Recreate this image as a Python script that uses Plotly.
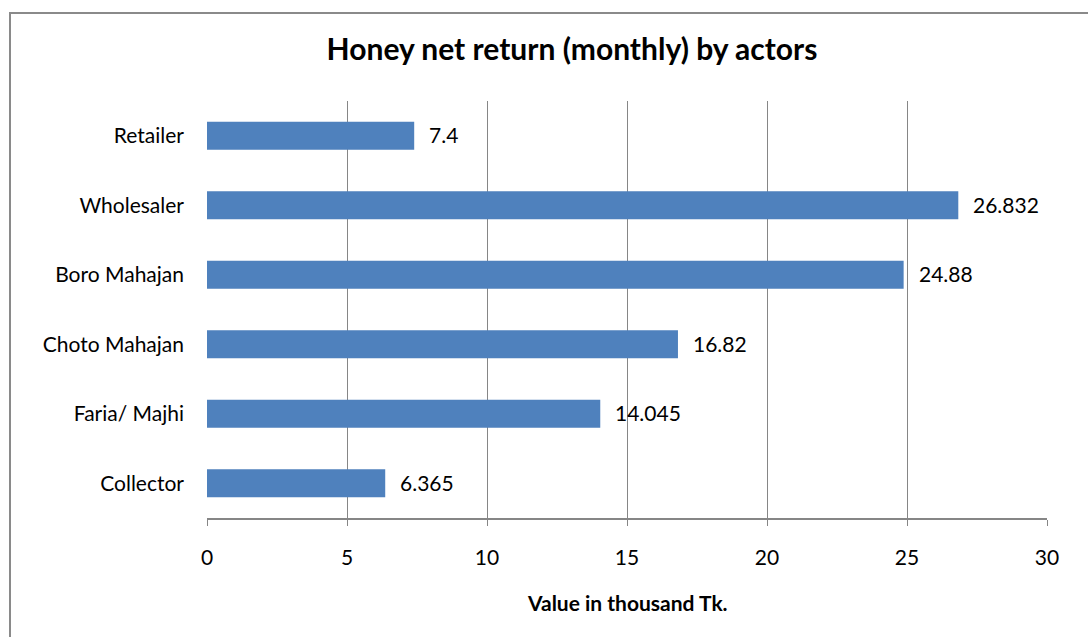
import plotly.graph_objects as go

categories = ["Collector", "Faria/ Majhi", "Choto Mahajan", "Boro Mahajan", "Wholesaler", "Retailer"]
values = [6.365, 14.045, 16.82, 24.88, 26.832, 7.4]
value_labels = ["6.365", "14.045", "16.82", "24.88", "26.832", "7.4"]
x_ticks = [0, 5, 10, 15, 20, 25, 30]

title_text = "Honey net return (monthly) by actors"
x_title = "Value in thousand Tk."

FONT = "Lato, Carlito, Calibri, sans-serif"
GRID = "#868686"
BAR = "#4F81BD"

W, H = 1088, 637
L, R, T, B = 207, 41, 101, 119
pw, ph = W - L - R, H - T - B

fig = go.Figure()
fig.add_trace(go.Bar(
    y=categories, x=values, orientation="h",
    marker=dict(color=BAR, line=dict(width=0)),
    width=0.4, hoverinfo="skip", showlegend=False,
))

for c, v, lab in zip(categories, values, value_labels):
    fig.add_annotation(x=v, y=c, xref="x", yref="y", text=lab, showarrow=False,
                       xanchor="left", yanchor="middle", xshift=13, yshift=1,
                       font=dict(family=FONT, size=21, color="#000000"))

# axis title
fig.add_annotation(x=0.5, y=(518 - 602) / ph, xref="paper", yref="paper", text="<b>%s</b>" % x_title,
                   showarrow=False, xanchor="center", yanchor="middle",
                   font=dict(family=FONT, size=21, color="#000000"))

# outer frame
fig.add_shape(type="rect", xref="paper", yref="paper",
              x0=(10 - L) / pw, x1=(1100 - L) / pw,
              y0=(518 - 660) / ph, y1=(518 - 13) / ph,
              line=dict(color="#8a8a8a", width=2), fillcolor="rgba(0,0,0,0)", layer="below")

fig.update_layout(
    width=W, height=H,
    margin=dict(l=L, r=R, t=T, b=B, pad=0),
    paper_bgcolor="white", plot_bgcolor="white",
    font=dict(family=FONT, size=21, color="#000000"),
    title=dict(text="<b>%s</b>" % title_text, x=572 / W, xanchor="center",
               y=1 - 49 / H, yanchor="middle", yref="container",
               font=dict(family=FONT, size=30, color="#000000")),
    xaxis=dict(range=[0, 30], tickvals=x_ticks, ticktext=[str(t) for t in x_ticks],
               showgrid=True, gridcolor=GRID, gridwidth=1,
               showline=True, linecolor=GRID, linewidth=2,
               ticks="outside", ticklen=6, tickcolor=GRID, tickwidth=1,
               ticklabelstandoff=14, zeroline=False,
               tickfont=dict(family=FONT, size=21, color="#000000")),
    yaxis=dict(type="category", categoryorder="array", categoryarray=categories,
               showgrid=False, showline=False, zeroline=False, ticks="",
               ticklabelstandoff=22,
               tickfont=dict(family=FONT, size=21, color="#000000")),
    bargap=0.6,
)

fig.write_html("out.html", config={"displayModeBar": False},
               post_script="document.body.style.margin='0';")
